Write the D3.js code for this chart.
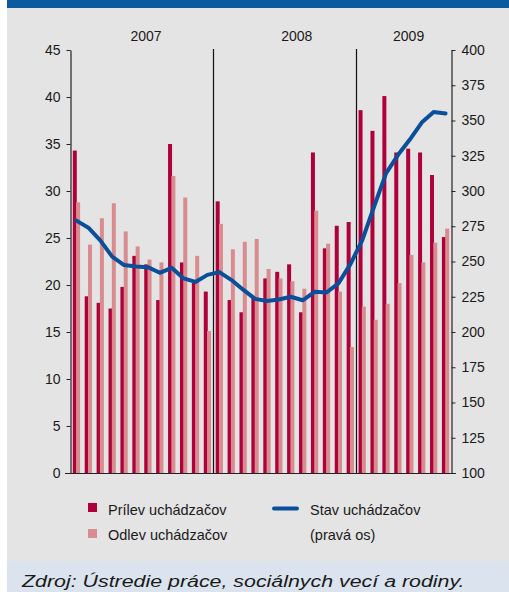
<!DOCTYPE html>
<html><head><meta charset="utf-8">
<script src="https://cdn.jsdelivr.net/npm/d3@7"></script>
<style>
html,body{margin:0;padding:0;background:#fff;}
svg{display:block;}
text{font-family:"Liberation Sans",Arial,sans-serif;}
</style></head>
<body>
<svg id="c" width="509" height="592"></svg>
<script>
// ---- data ----
const months = [
 "2007-01","2007-02","2007-03","2007-04","2007-05","2007-06","2007-07","2007-08","2007-09","2007-10","2007-11","2007-12",
 "2008-01","2008-02","2008-03","2008-04","2008-05","2008-06","2008-07","2008-08","2008-09","2008-10","2008-11","2008-12",
 "2009-01","2009-02","2009-03","2009-04","2009-05","2009-06","2009-07","2009-08"];
const years = ["2007","2008","2009"];
const prilev = [34.3,18.8,18.1,17.5,19.8,23.1,22.2,18.4,35.0,22.4,20.3,19.3,
                28.9,18.4,17.1,18.8,20.7,21.4,22.2,17.1,34.1,23.9,26.3,26.7,
                38.6,36.4,40.1,34.1,34.5,34.1,31.7,25.1];
const odlev  = [28.8,24.3,27.1,28.7,25.7,24.1,22.7,22.4,31.6,29.3,23.1,15.1,
                26.5,23.8,24.6,24.9,21.7,20.7,20.4,19.6,27.9,24.4,19.3,13.4,
                17.7,16.3,18.0,20.2,23.2,22.4,24.5,26.0];
const stav   = [279,274,265,253.5,247.5,246.5,246,242,245.5,238,235.5,240.5,
                242.5,237,230,223.5,222,223,225,222.5,228.5,228,234.5,248,
                265,289,312.5,325.5,336.5,348.5,356,355];
const leftTicks = [0,5,10,15,20,25,30,35,40,45];
const rightTicks = [100,125,150,175,200,225,250,275,300,325,350,375,400];
const legendLabels = ["Prílev uchádzačov","Odlev uchádzačov","Stav uchádzačov","(pravá os)"];
const sourceText = "Zdroj: Ústredie práce, sociálnych vecí a rodiny.";

// ---- drawing ----
const svg = d3.select("#c");
const C = {dark:"#b0003a", light:"#d98c8f", line:"#0b4f9a", bg:"#e4e4e4", head:"#0a5aa0", src:"#dbe4ee"};

svg.append("rect").attr("x",7).attr("y",0).attr("width",502).attr("height",8).attr("fill",C.head);
svg.append("rect").attr("x",7).attr("y",8).attr("width",502).attr("height",553).attr("fill",C.bg);
svg.append("rect").attr("x",7).attr("y",561).attr("width",502).attr("height",31).attr("fill",C.src);

const x = d3.scaleBand().domain(months).range([70.5,451.5]).padding(0);
const bw = x.bandwidth();
const yL = d3.scaleLinear().domain([0,45]).range([473,50]);
const yR = d3.scaleLinear().domain([100,400]).range([473,50]);

const g = svg.append("g");

// bars
g.selectAll("rect.p").data(months).join("rect")
 .attr("x",(m)=>x(m)+2.3).attr("width",4)
 .attr("y",(m,i)=>yL(prilev[i])).attr("height",(m,i)=>yL(0)-yL(prilev[i]))
 .attr("fill",C.dark);
g.selectAll("rect.o").data(months).join("rect")
 .attr("x",(m)=>x(m)+5.6).attr("width",4)
 .attr("y",(m,i)=>yL(odlev[i])).attr("height",(m,i)=>yL(0)-yL(odlev[i]))
 .attr("fill",C.light);

// year separators
[12,24].forEach(k=>{
  const xx = Math.round(x(months[k]))+0.5;
  g.append("line").attr("x1",xx).attr("x2",xx).attr("y1",49).attr("y2",473)
   .attr("stroke","#111").attr("stroke-width",1.2);
});
// year labels
const yearAnchor = [6.35, 19.0, 28.4];
years.forEach((yv,i)=>{
  g.append("text").attr("x",70.5+yearAnchor[i]*bw).attr("y",41)
   .attr("text-anchor","middle").attr("font-size",14).attr("fill","#1a1a1a").text(yv);
});

// line
const line = d3.line().x((d,i)=>x(months[i])+bw/2).y(d=>yR(d)).curve(d3.curveLinear);
g.append("path").datum(stav).attr("d",line).attr("fill","none")
 .attr("stroke",C.line).attr("stroke-width",4).attr("stroke-linejoin","round").attr("stroke-linecap","round");

// axes
const axL = d3.axisLeft(yL).tickValues(leftTicks).tickSize(4).tickPadding(6).tickSizeOuter(0);
const aL = svg.append("g").attr("transform","translate(70.5,0)").call(axL);
const axR = d3.axisRight(yR).tickValues(rightTicks).tickSize(4).tickPadding(6).tickSizeOuter(0);
const aR = svg.append("g").attr("transform","translate(451.5,0)").call(axR);
[aL,aR].forEach(a=>{
  a.select(".domain").attr("stroke","#222").attr("stroke-width",1.2);
  a.selectAll(".tick line").attr("stroke","#222");
  a.selectAll(".tick text").attr("font-size",14).attr("fill","#1a1a1a")
   .attr("font-family",'"Liberation Sans",Arial,sans-serif');
});
// baseline
svg.append("line").attr("x1",65).attr("x2",456).attr("y1",473.5).attr("y2",473.5)
 .attr("stroke","#222").attr("stroke-width",1.2);

// legend
const lg = svg.append("g").attr("font-size",14.5).attr("fill","#1a1a1a");
lg.append("rect").attr("x",88).attr("y",503).attr("width",9).attr("height",9).attr("fill",C.dark);
lg.append("rect").attr("x",88).attr("y",529).attr("width",9).attr("height",9).attr("fill",C.light);
lg.append("text").attr("x",108).attr("y",515).text(legendLabels[0]);
lg.append("text").attr("x",108).attr("y",540).text(legendLabels[1]);
lg.append("line").attr("x1",274).attr("x2",297).attr("y1",508.5).attr("y2",508.5)
 .attr("stroke",C.line).attr("stroke-width",4).attr("stroke-linecap","round");
lg.append("text").attr("x",310).attr("y",515).text(legendLabels[2]);
lg.append("text").attr("x",310).attr("y",540).text(legendLabels[3]);

// source
const src = svg.append("text").attr("x",0).attr("y",0).attr("font-size",17)
 .attr("font-style","italic").attr("fill","#1a1a1a")
 .attr("font-family",'"Liberation Sans",Arial,sans-serif').text(sourceText);
const w = src.node().getComputedTextLength();
const sx = 443 / w;
src.attr("transform",`translate(22,587) scale(${sx},1)`);
</script>
</body></html>
